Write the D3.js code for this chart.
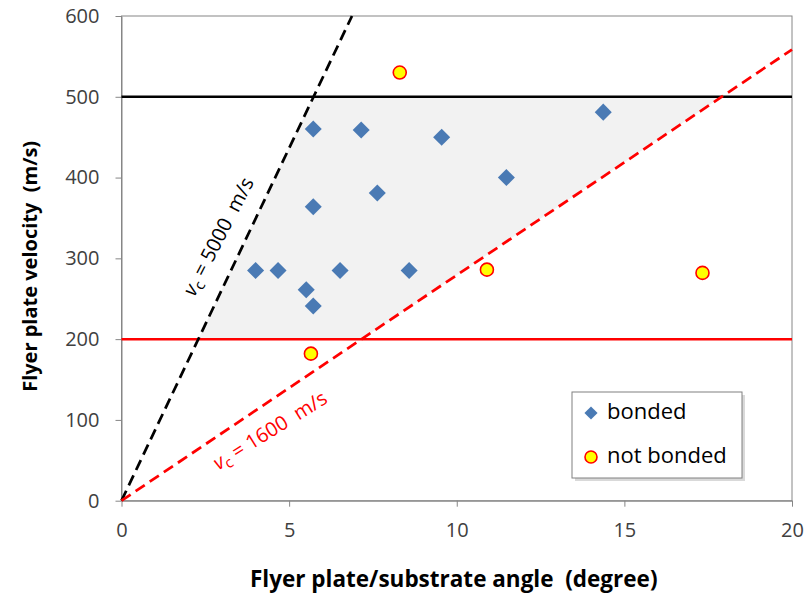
<!DOCTYPE html>
<html>
<head>
<meta charset="utf-8">
<script src="https://cdn.jsdelivr.net/npm/d3@7"></script>
<style>
  html, body { margin: 0; padding: 0; background: #fff; }
  svg { display: block; font-family: "Open Sans", "Liberation Sans", sans-serif; }
  text { white-space: pre; }
</style>
</head>
<body>
<svg id="chart" width="806" height="597"></svg>
<script>
// Welding window: flyer plate velocity vs. flyer plate/substrate angle
const bondedAngle    = [4.0, 4.67, 5.72, 5.72, 5.51, 5.72, 6.52, 7.15, 7.63, 8.58, 9.55, 11.48, 14.37];
const bondedVelocity = [285, 285, 460, 364, 261, 241, 285, 459, 381, 285, 450, 400, 481];

const notBondedAngle    = [5.65, 8.3, 10.9, 17.33];
const notBondedVelocity = [182, 530, 286, 282];

// Velocity limits (horizontal lines)
const upperLimit = 500;
const lowerLimit = 200;

// Critical collision-point velocity lines through the origin: [angle, velocity] end points
const vc5000Line = [[0, 0], [6.875, 600]];
const vc1600Line = [[0, 0], [20, 558.5]];

// Shaded weldability window corners [angle, velocity]
const windowCorners = [[2.29, 200], [5.73, 500], [17.9, 500], [7.16, 200]];

const xTicks = [0, 5, 10, 15, 20];
const yTicks = [0, 100, 200, 300, 400, 500, 600];

const legendLabels = ["bonded", "not bonded"];

const svg = d3.select("#chart");
const margin = { left: 121.5, right: 14, top: 16, bottom: 96.3 };
const W = 806, H = 597;

const x = d3.scaleLinear().domain([0, 20]).range([margin.left, W - margin.right]);
const y = d3.scaleLinear().domain([0, 600]).range([H - margin.bottom, margin.top]);

const axisGray = "#868686";
const blue = "#4A7AB4";

// Shaded window
svg.append("path")
  .attr("d", d3.line().x(d => x(d[0])).y(d => y(d[1]))(windowCorners) + "Z")
  .attr("fill", "#F2F2F2");

// Plot-area border
svg.append("rect")
  .attr("x", x(0)).attr("y", y(600))
  .attr("width", x(20) - x(0)).attr("height", y(0) - y(600))
  .attr("fill", "none").attr("stroke", axisGray).attr("stroke-width", 1);

// Axes
const xAxis = svg.append("g")
  .attr("transform", `translate(0,${y(0)})`)
  .call(d3.axisBottom(x).tickValues(xTicks).tickSize(6).tickSizeOuter(0).tickPadding(16));
const yAxis = svg.append("g")
  .attr("transform", `translate(${x(0)},0)`)
  .call(d3.axisLeft(y).tickValues(yTicks).tickSize(6).tickSizeOuter(0).tickPadding(16));
[xAxis, yAxis].forEach(g => {
  g.select(".domain").attr("stroke", axisGray);
  g.selectAll(".tick line").attr("stroke", axisGray);
  g.selectAll(".tick text")
    .attr("fill", "#404040")
    .style("font-size", "20px")
    .style("font-family", '"Open Sans", sans-serif');
});

// Horizontal limit lines
svg.append("line")
  .attr("x1", x(0)).attr("x2", x(20))
  .attr("y1", y(upperLimit)).attr("y2", y(upperLimit))
  .attr("stroke", "#000").attr("stroke-width", 2.5);
svg.append("line")
  .attr("x1", x(0)).attr("x2", x(20))
  .attr("y1", y(lowerLimit)).attr("y2", y(lowerLimit))
  .attr("stroke", "#FF0000").attr("stroke-width", 2.5);

// Dashed critical-velocity lines
const lineGen = d3.line().x(d => x(d[0])).y(d => y(d[1]));
svg.append("path").attr("d", lineGen(vc5000Line))
  .attr("fill", "none").attr("stroke", "#000").attr("stroke-width", 2.75)
  .attr("stroke-dasharray", "11,6");
svg.append("path").attr("d", lineGen(vc1600Line))
  .attr("fill", "none").attr("stroke", "#FF0000").attr("stroke-width", 2.75)
  .attr("stroke-dasharray", "11,6");

// Rotated labels for the dashed lines
function lineAngle(pts) {
  const dx = x(pts[1][0]) - x(pts[0][0]);
  const dy = y(pts[1][1]) - y(pts[0][1]);
  return Math.atan2(dy, dx) * 180 / Math.PI;
}
function vcLabel(anchor, pts, value, color) {
  const t = svg.append("text")
    .attr("transform", `translate(${x(anchor[0])},${y(anchor[1])}) rotate(${lineAngle(pts) + 2})`)
    .attr("text-anchor", "middle")
    .attr("dominant-baseline", "middle")
    .attr("fill", color)
    .style("font-size", "20px");
  t.append("tspan").text("v").style("font-style", "italic");
  t.append("tspan").text("c").attr("dy", 5).style("font-size", "15px");
  t.append("tspan").text(` = ${value}  m/s`).attr("dy", -5);
}
vcLabel([2.94, 326], vc5000Line, 5000, "#000");
vcLabel([4.46, 85], vc1600Line, 1600, "#FF0000");

// Symbols
const diamond = d3.symbol().type(d3.symbolDiamond2).size(185);

svg.append("g").selectAll("path")
  .data(bondedAngle.map((a, i) => [a, bondedVelocity[i]]))
  .join("path")
  .attr("d", diamond)
  .attr("transform", d => `translate(${x(d[0])},${y(d[1])})`)
  .attr("fill", blue);

svg.append("g").selectAll("circle")
  .data(notBondedAngle.map((a, i) => [a, notBondedVelocity[i]]))
  .join("circle")
  .attr("cx", d => x(d[0])).attr("cy", d => y(d[1]))
  .attr("r", 6.5)
  .attr("fill", "#FFFF00").attr("stroke", "#FF0000").attr("stroke-width", 1.6);

// Axis titles
svg.append("text")
  .attr("x", (x(0) + x(20)) / 2 - 3).attr("y", 587)
  .attr("text-anchor", "middle")
  .style("font-size", "22.5px").style("font-weight", "bold")
  .attr("fill", "#000")
  .text("Flyer plate/substrate angle  (degree)");
svg.append("text")
  .attr("transform", `translate(37,${(y(0) + y(600)) / 2 + 8}) rotate(-90)`)
  .attr("text-anchor", "middle")
  .style("font-size", "20px").style("font-weight", "bold")
  .attr("fill", "#000")
  .text("Flyer plate velocity  (m/s)");

// Legend
const lg = svg.append("g").attr("transform", "translate(572,392)");
lg.append("rect").attr("x", 3).attr("y", 3).attr("width", 170).attr("height", 86)
  .attr("fill", "#BFBFBF").attr("opacity", 0.6);
lg.append("rect").attr("width", 170).attr("height", 86)
  .attr("fill", "#fff").attr("stroke", "#808080").attr("stroke-width", 1);
lg.append("path").attr("d", d3.symbol().type(d3.symbolDiamond2).size(110))
  .attr("transform", "translate(19,21)").attr("fill", blue);
lg.append("circle").attr("cx", 19).attr("cy", 65).attr("r", 6)
  .attr("fill", "#FFFF00").attr("stroke", "#FF0000").attr("stroke-width", 1.6);
legendLabels.forEach((lab, i) => {
  lg.append("text").attr("x", 35).attr("y", 21 + i * 44)
    .attr("dominant-baseline", "middle")
    .style("font-size", "22px").attr("fill", "#000")
    .text(lab);
});
</script>
</body>
</html>
